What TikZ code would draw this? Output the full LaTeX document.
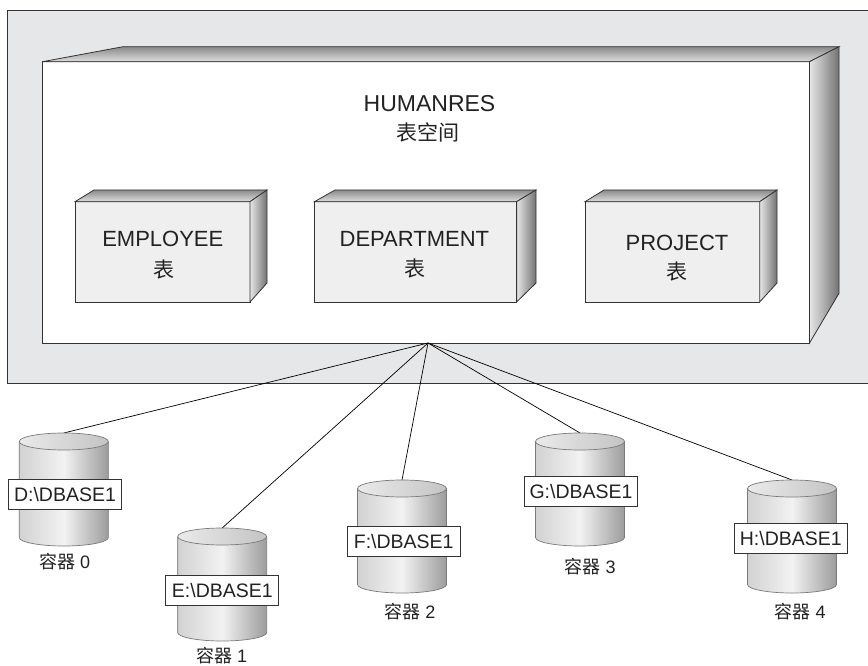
\documentclass[tikz,border=0pt]{standalone}
\usepackage{fontspec}
\setmainfont{Liberation Sans}
\newfontfamily\cjk{Noto Sans CJK SC}
\definecolor{edge}{HTML}{333333}
\definecolor{txt}{HTML}{222222}
\definecolor{outerfill}{HTML}{E6E7E8}
\definecolor{boxfront}{HTML}{EFEFF0}
\definecolor{topdark}{HTML}{8A8A8A}
\definecolor{toplight}{HTML}{DEDEDE}
\definecolor{sidelight}{HTML}{E6E6E6}
\definecolor{sidedark}{HTML}{727272}
\definecolor{cylleft}{HTML}{D2D2D2}
\definecolor{cylmid}{HTML}{F2F2F2}
\definecolor{cylright}{HTML}{9C9C9C}
\definecolor{cyledge}{HTML}{7A7A7A}
\definecolor{cyltopa}{HTML}{EAEAEA}
\definecolor{cyltopb}{HTML}{C4C4C4}
\tikzset{
  faceline/.style={draw=edge, line width=0.8pt},
  frontface/.style={faceline, fill=boxfront, inner sep=0pt},
  topshade/.style={top color=topdark, bottom color=toplight},
  sideshade/.style={left color=sidelight, right color=sidedark},
  bigtxt/.style={text=txt, inner sep=0pt, font=\fontsize{22}{26}\selectfont},
  cjktxt/.style={text=txt, inner sep=0pt, font=\cjk\fontsize{21}{24}\selectfont},
  lbl/.style={draw=edge, line width=0.8pt, fill=white, minimum width=113, minimum height=30,
    inner sep=0pt, text height=14, text depth=0, text=txt, font=\fontsize{19.5}{22}\selectfont},
  captxt/.style={text=txt, inner sep=0pt, font=\fontsize{18}{20}\selectfont},
  link/.style={draw=black, line width=0.7pt},
  cylbody/.style={left color=cylleft, right color=cylright, middle color=cylmid},
  cylline/.style={draw=cyledge, line width=0.7pt},
  cyltop/.style={left color=cyltopa, right color=cyltopb}
}
% cylinder: name, center x, top y
\newcommand\drawcyl[3]{%
  \shade[cylbody] ({#2-44.5},{#3+8.5}) -- ({#2-44.5},{#3+104.5}) arc[start angle=180,end angle=0,x radius=44.5,y radius=8.5] -- ({#2+44.5},{#3+8.5}) -- cycle;
  \draw[cylline] ({#2-44.5},{#3+8.5}) -- ({#2-44.5},{#3+104.5}) arc[start angle=180,end angle=0,x radius=44.5,y radius=8.5] -- ({#2+44.5},{#3+8.5});
  \shade[cyltop] (#2,{#3+8.5}) ellipse[x radius=44.5,y radius=8.5];
  \draw[cylline] (#2,{#3+8.5}) ellipse[x radius=44.5,y radius=8.5];
  \coordinate (#1) at (#2,#3);
}
% box: name, x1,y1,x2,y2, back-left x, back top y, back right x, back bottom y
\newcommand\drawbox[9]{%
  \node[frontface, minimum width={#4-#2}, minimum height={#5-#3}] (#1) at ({(#2+#4)/2},{(#3+#5)/2}) {};
  \shade[topshade] (#2,#3) -- (#6,#7) -- (#8,#7) -- (#4,#3) -- cycle;
  \draw[faceline] (#2,#3) -- (#6,#7) -- (#8,#7) -- (#4,#3) -- cycle;
  \shade[sideshade] (#4,#3) -- (#8,#7) -- (#8,#9) -- (#4,#5) -- cycle;
  \draw[faceline] (#4,#3) -- (#8,#7) -- (#8,#9) -- (#4,#5) -- cycle;
}
\begin{document}
\begin{tikzpicture}[x=1pt,y=-1pt]
\useasboundingbox (0,0) rectangle (868,666);
\clip (0,0) rectangle (868,666);
% outer grey container
\path[faceline, fill=outerfill] (7,10) rectangle (880,383);
% tablespace box
\node[faceline, fill=white, inner sep=0pt, minimum width=766.9, minimum height=281.3] (ts) at (426.05,202.35) {};
\shade[topshade] (42.6,61.7) -- (123,46.7) -- (839,46.7) -- (809.5,61.7) -- cycle;
\draw[faceline] (42.6,61.7) -- (123,46.7) -- (839,46.7) -- (809.5,61.7) -- cycle;
\shade[sideshade] (809.5,61.7) -- (839,46.7) -- (839,293.3) -- (809.5,343) -- cycle;
\draw[faceline] (809.5,61.7) -- (839,46.7) -- (839,293.3) -- (809.5,343) -- cycle;
\node[bigtxt, font=\fontsize{23}{26}\selectfont, anchor=base] (hr) at (429.5,111.2) {HUMANRES};
\node[cjktxt] (hrc) at (428,132.3) {表空间};
% tables
\drawbox{emp}{75}{201.7}{250}{302}{94}{190}{267}{283}
\drawbox{dept}{314.5}{201.7}{516.6}{302}{335}{190}{536}{283}
\drawbox{proj}{585}{201.7}{759.7}{302}{604}{190}{777}{283}
\node[bigtxt, anchor=base] (empt) at (162.8,247) {EMPLOYEE};
\node[cjktxt] (empc) at (163.7,270) {表};
\node[bigtxt, anchor=base] (deptt) at (414.4,246.6) {DEPARTMENT};
\node[cjktxt] (deptc) at (415,268.5) {表};
\node[bigtxt, anchor=base] (projt) at (677,250) {PROJECT};
\node[cjktxt] (projc) at (676.6,272) {表};
% hub
\coordinate (hub) at (428,343);
% cylinder top coordinates for links
\coordinate (c0) at (63.8,433);
\coordinate (c1) at (222.2,528);
\coordinate (c2) at (402,480);
\coordinate (c3) at (580,433);
\coordinate (c4) at (792,480);
\foreach \c in {c0,c1,c2,c3,c4} \draw[link] (hub) -- (\c);
% cylinders
\drawcyl{c0}{63.8}{433}
\drawcyl{c1}{222.2}{528}
\drawcyl{c2}{402}{480}
\drawcyl{c3}{580}{433}
\drawcyl{c4}{792}{480}
% labels
\node[lbl] (l0) at (65,494.5) {D:\textbackslash DBASE1};
\node[lbl] (l1) at (222.3,590) {E:\textbackslash DBASE1};
\node[lbl] (l2) at (403.7,541) {F:\textbackslash DBASE1};
\node[lbl] (l3) at (581,491.7) {G:\textbackslash DBASE1};
\node[lbl] (l4) at (790.8,538.3) {H:\textbackslash DBASE1};
\node[captxt] (n0) at (64.7,561.7) {{\cjk 容器} 0};
\node[captxt] (n1) at (221.7,655.5) {{\cjk 容器} 1};
\node[captxt] (n2) at (410,611.7) {{\cjk 容器} 2};
\node[captxt] (n3) at (590,566.7) {{\cjk 容器} 3};
\node[captxt] (n4) at (800,611.7) {{\cjk 容器} 4};
\end{tikzpicture}
\end{document}
